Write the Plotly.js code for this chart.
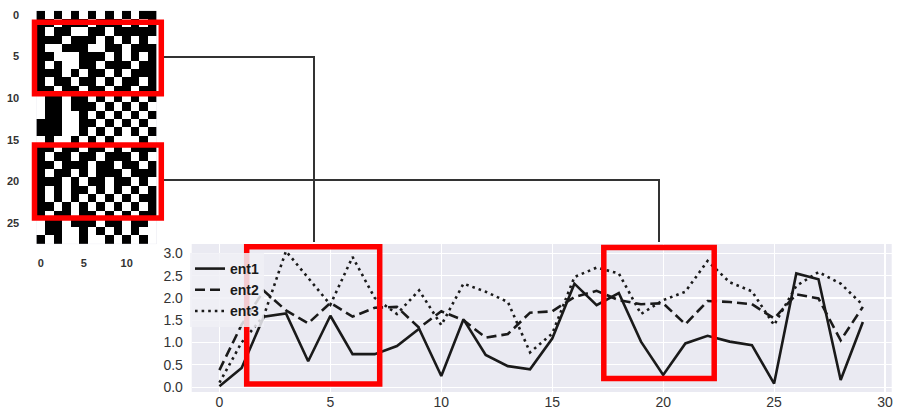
<!DOCTYPE html>
<html>
<head>
<meta charset="utf-8">
<script src="https://cdn.plot.ly/plotly-3.0.1.min.js"></script>
<style>
  html, body { margin: 0; padding: 0; background: #ffffff; }
  #chart { width: 898px; height: 412px; }
</style>
</head>
<body>
<div id="chart"></div>
<script>
// Time steps of the entropy series
const steps = [0,1,2,3,4,5,6,7,8,9,10,11,12,13,14,15,16,17,18,19,20,21,22,23,24,25,26,27,28,29];

// Entropy series
const ent1 = [0.02,0.43,1.58,1.65,0.58,1.60,0.74,0.74,0.92,1.31,0.25,1.52,0.72,0.47,0.40,1.09,2.32,1.84,2.11,1.02,0.27,0.98,1.15,1.02,0.94,0.08,2.55,2.42,0.16,1.46];
const ent2 = [0.38,1.40,2.16,1.72,1.43,1.89,1.58,1.78,1.80,1.33,1.70,1.50,1.11,1.19,1.67,1.70,2.02,2.16,1.95,1.86,1.88,1.41,1.93,1.91,1.86,1.54,2.08,1.99,1.05,1.80];
const ent3 = [0.10,1.00,1.60,3.05,2.45,1.85,2.92,2.00,1.64,2.17,1.39,2.32,2.14,1.91,0.78,1.20,2.47,2.68,2.55,1.64,1.95,2.14,2.83,2.35,2.15,1.39,2.27,2.58,2.32,1.84];

// Binary pattern (28 rows x 14 columns), 1 = black cell
const patternRows = [
  "10101010101011",
  "11011101110101",
  "10110011011111",
  "11101110101010",
  "10011100110111",
  "11000111010101",
  "10100110111011",
  "11101011010111",
  "10110110101101",
  "11011011011011",
  "01101101010101",
  "01101110101010",
  "01100101010101",
  "11100110101010",
  "11100101010101",
  "01001010100010",
  "11011011010111",
  "10110110111010",
  "11011101101101",
  "10110101110111",
  "11101011011010",
  "10101101010101",
  "10101010101011",
  "11010101010101",
  "10110110101011",
  "01101110110110",
  "01100101010100",
  "10100100101010"
];
const patternTicks = [0, 5, 10, 15, 20, 25];
const colTicks = [0, 5, 10];
const seriesXTicks = [0, 5, 10, 15, 20, 25, 30];
const seriesYTicks = [0.0, 0.5, 1.0, 1.5, 2.0, 2.5, 3.0];

const z = patternRows.map(r => r.split('').map(Number));

// page geometry helpers (pixel -> paper fraction)
const W = 898, H = 412;
const fx = x => x / W;
const fy = y => 1 - y / H;

const lineColor = '#1a1a1a';
const font = "'Liberation Sans', Arial, sans-serif";

const traces = [
  {
    type: 'heatmap', z: z, xaxis: 'x2', yaxis: 'y2',
    colorscale: [[0, '#ffffff'], [1, '#000000']],
    zmin: 0, zmax: 1, showscale: false, hoverinfo: 'skip', showlegend: false
  },
  { x: steps, y: ent1, name: 'ent1', mode: 'lines', line: { color: lineColor, width: 2.6 } },
  { x: steps, y: ent2, name: 'ent2', mode: 'lines', line: { color: lineColor, width: 2.6, dash: '10px,5px' } },
  { x: steps, y: ent3, name: 'ent3', mode: 'lines', line: { color: lineColor, width: 2.6, dash: '2.6px,4px' } }
];

const redBox = (x0, y0, x1, y1) => ({
  type: 'rect', xref: 'paper', yref: 'paper',
  x0: fx(x0), x1: fx(x1), y0: fy(y1), y1: fy(y0),
  line: { color: '#ff0000', width: 5.5 }, fillcolor: 'rgba(0,0,0,0)', layer: 'above'
});
const connector = (x0, y0, x1, y1) => ({
  type: 'path', xref: 'paper', yref: 'paper',
  path: `M ${fx(x0)},${fy(y0)} L ${fx(x1)},${fy(y0)} L ${fx(x1)},${fy(y1)}`,
  line: { color: '#333333', width: 2 }, layer: 'above'
});

const layout = {
  width: W, height: H,
  margin: { l: 0, r: 0, t: 0, b: 0 },
  paper_bgcolor: '#ffffff',
  plot_bgcolor: '#eaeaf2',
  font: { family: font, color: '#333333' },
  showlegend: true,
  legend: {
    x: fx(190), y: fy(253), xanchor: 'left', yanchor: 'top',
    bgcolor: 'rgba(240,240,246,0.85)', borderwidth: 0,
    font: { family: font, size: 14, color: '#1a1a1a', weight: 'bold' },
    tracegroupgap: 0
  },
  xaxis: {
    domain: [fx(191.7), fx(891.7)], anchor: 'y',
    range: [-1.25, 30.3], tickvals: seriesXTicks,
    showgrid: true, gridcolor: '#ffffff', gridwidth: 1.2, zeroline: false, showline: false,
    ticks: '',
    tickfont: { family: font, size: 14, color: '#333333' }
  },
  yaxis: {
    domain: [fy(392), fy(244)], anchor: 'x',
    range: [-0.11, 3.21], tickvals: seriesYTicks, ticktext: seriesYTicks.map(v => v.toFixed(1)),
    showgrid: true, gridcolor: '#ffffff', gridwidth: 1.2, zeroline: false, showline: false,
    ticks: 'outside', ticklen: 5, tickcolor: 'rgba(0,0,0,0)',
    tickfont: { family: font, size: 14, color: '#333333' }
  },
  xaxis2: {
    domain: [fx(36.4), fx(156.8)], anchor: 'y2',
    range: [-0.5, 13.5], tickvals: colTicks,
    showgrid: false, zeroline: false, showline: false,
    ticks: 'outside', ticklen: 9, tickcolor: 'rgba(0,0,0,0)',
    tickfont: { family: font, size: 11, color: '#333333', weight: 'bold' }
  },
  yaxis2: {
    domain: [fy(244.1), fy(10.8)], anchor: 'x2',
    range: [27.5, -0.5], tickvals: patternTicks,
    showgrid: false, zeroline: false, showline: false,
    ticks: 'outside', ticklen: 14, tickcolor: 'rgba(0,0,0,0)',
    tickfont: { family: font, size: 11, color: '#333333', weight: 'bold' }
  },
  shapes: [
    connector(161, 57, 314, 242),
    connector(161, 180, 659, 242),
    redBox(34.5, 22.2, 161.3, 93.8),
    redBox(34.5, 145, 161.3, 218),
    redBox(246.7, 246.7, 379.7, 384),
    redBox(603.8, 247.5, 714.2, 378.5)
  ]
};

Plotly.newPlot('chart', traces, layout, { displayModeBar: false, staticPlot: true });
</script>
</body>
</html>
